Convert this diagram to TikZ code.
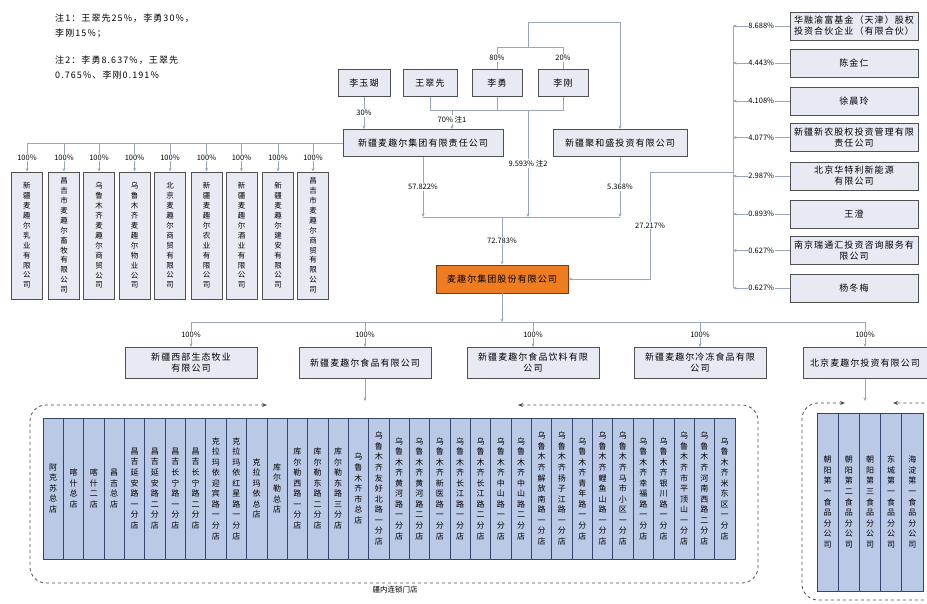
\documentclass[tikz,border=0pt]{standalone}
\usepackage{fontspec}
\setmainfont{Noto Sans CJK SC}
\newfontfamily\spacedfont{Noto Sans CJK SC}[LetterSpace=12]
\usetikzlibrary{arrows.meta}

\definecolor{boxfill}{HTML}{E8EAF3}
\definecolor{boxline}{HTML}{505050}
\definecolor{linkcol}{HTML}{98A6BE}
\definecolor{storefill}{HTML}{B9C9E6}
\definecolor{storeline}{HTML}{34456E}
\definecolor{hqfill}{HTML}{EE7D22}
\definecolor{hqline}{HTML}{7A3A10}

% stack the characters of a name one under the other
\let\vstackend\relax
\newcommand\vstack[1]{\vbox{\baselineskip=1.32em\expandafter\vstackA#1\vstackend}}
\def\vstackA#1{\ifx#1\vstackend\else\hbox to 1em{\hss#1\hss}\expandafter\vstackA\fi}

\begin{document}
\begin{tikzpicture}[x=1pt, y=-1pt, >={Stealth[length=3.5pt,width=3pt]},
    every node/.style={font=\fontsize{8.5}{10}\selectfont},
    box/.style={draw=boxline, fill=boxfill, line width=0.9pt, align=center, inner sep=1pt,
        font=\spacedfont\fontsize{9}{11}\selectfont},
    person/.style={box, minimum height=27pt},
    firm/.style={box, minimum height=27pt},
    hq/.style={box, draw=hqline, fill=hqfill},
    vertbox/.style={box, minimum width=31pt, minimum height=127pt, inner sep=0pt,
        font=\fontsize{7.5}{9}\selectfont},
    store/.style={draw=storeline, fill=storefill, line width=0.7pt, minimum width=20.35pt,
        minimum height=141pt, inner sep=0pt, font=\fontsize{8}{10}\selectfont},
    link/.style={draw=linkcol, line width=0.8pt},
    pct/.style={font=\fontsize{7.5}{8}\selectfont, fill=white, inner sep=0.8pt},
    note/.style={font=\spacedfont\fontsize{9}{15}\selectfont, align=left, inner sep=0pt},
    dashloop/.style={dashed, line width=0.8pt, draw=black!70, rounded corners=16pt,
        {Stealth[length=5pt,width=4pt]}-{Stealth[length=5pt,width=4pt]}}]
    \useasboundingbox (0,0) rectangle (927,603);
    \clip (0,0) rectangle (927,603);

    % notes
    \node[note, anchor=north west] (noteA) at (55,14) {注1：王翠先25\%，李勇30\%，\\李刚15\%；};
    \node[note, anchor=north west] (noteB) at (55,56) {注2：李勇8.637\%，王翠先\\0.765\%、李刚0.191\%};

    % natural persons
    \node[person, minimum width=52pt] (liyh)   at (364,83) {李玉瑚};
    \node[person, minimum width=54pt] (wangcx) at (430,83) {王翠先};
    \node[person, minimum width=50pt] (liy)    at (497,83) {李勇};
    \node[person, minimum width=50pt] (lig)    at (563,83) {李刚};

    \node[firm, minimum width=160pt] (groupco) at (423,143) {新疆麦趣尔集团有限责任公司};
    \node[firm, minimum width=134pt] (juhe)    at (620,143) {新疆聚和盛投资有限公司};
    \node[hq, minimum width=132pt, minimum height=28pt] (maiq) at (502,279) {麦趣尔集团股份有限公司};

    \coordinate (topM) at (528,47);
    \coordinate (topC) at (528,22);
    \coordinate (lowbar) at (0,110);
    \coordinate (famin) at (452,110);
    \coordinate (famout) at (528,110);
    \coordinate (mergebar) at (502,217);

    \draw[link] (liy.north) -- node[pct]{80\%} (liy.north |- topM) -- (lig.north |- topM)
        -- node[pct]{20\%} (lig.north);
    \draw[link, ->] (topM) -- (topC) -| (juhe.north);
    \draw[link] (wangcx.south) -- (wangcx.south |- lowbar) -- (lig.south |- lowbar) -- (lig.south);
    \draw[link] (liy.south) -- (liy.south |- lowbar);
    \draw[link, ->] (famin) -- node[pct]{70\% 注1} (famin |- groupco.north);
    \draw[link, ->] (liyh.south) -- node[pct]{30\%} (liyh.south |- groupco.north);

    % into the listed company
    \draw[link, ->] (groupco.south) -- node[pct]{57.822\%} (groupco.south |- mergebar);
    \draw[link, ->] (famout) -- node[pct]{9.593\% 注2} (famout |- mergebar);
    \draw[link, ->] (juhe.south) -- node[pct]{5.368\%} (juhe.south |- mergebar);
    \draw[link] (groupco.south |- mergebar) -- (juhe.south |- mergebar);
    \draw[link, ->] (mergebar) -- node[pct]{72.783\%} (maiq.north);

    % other shareholders
    \foreach \y/\name/\p [count=\i] in {
        26/{华融渝富基金（天津）股权\\投资合伙企业（有限合伙）}/8.688,
        63/陈金仁/4.443,
        101/徐晨玲/4.108,
        137.5/{新疆新农股权投资管理有限\\责任公司}/4.077,
        176/{北京华特利新能源\\有限公司}/2.987,
        214/王澄/0.893,
        250.5/{南京瑞通汇投资咨询服务有\\限公司}/0.627,
        288/杨冬梅/0.627} {
        \node[firm, minimum width=128pt, minimum height=28pt] (holder\i) at (854,\y) {\name};
        \coordinate (tap\i) at (733,\y);
        \draw[link, ->] (holder\i.west) -- node[pct]{\p\%} (tap\i);
    }
    \draw[link] (tap1) -- (tap8);
    \coordinate (tapmid) at (733,172);
    \coordinate (bend) at (650,172);
    \draw[link, ->] (tapmid) -- (bend) |- node[pct, pos=0.25]{27.217\%} (maiq.east);

    % subsidiaries of the group company
    \foreach \x/\name [count=\i] in {
        27/新疆麦趣尔乳业有限公司,
        64/昌吉市麦趣尔畜牧有限公司,
        99/乌鲁木齐麦趣尔商贸公司,
        134.5/乌鲁木齐麦趣尔物业公司,
        170/北京麦趣尔商贸有限公司,
        206.5/新疆麦趣尔农业有限公司,
        241.5/新疆麦趣尔酒业有限公司,
        278/新疆麦趣尔建安有限公司,
        313/昌吉市麦趣尔商贸有限公司} {
        \node[vertbox] (sub\i) at (\x,235.5) {\vstack{\name}};
        \draw[link, ->] (groupco.west -| sub\i.north) -- node[pct]{100\%} (sub\i.north);
    }
    \draw[link] (groupco.west) -- (groupco.west -| sub1.north);

    % subsidiaries of the listed company
    \node[firm, minimum width=132pt, minimum height=31pt] (ranch) at (191,363) {新疆西部生态牧业\\有限公司};
    \node[firm, minimum width=132pt, minimum height=31pt] (food)  at (365,363) {新疆麦趣尔食品有限公司};
    \node[firm, minimum width=132pt, minimum height=31pt] (drink) at (533,363) {新疆麦趣尔食品饮料有限\\公司};
    \node[firm, minimum width=132pt, minimum height=31pt] (frozen) at (700,363) {新疆麦趣尔冷冻食品有限\\公司};
    \node[firm, minimum width=124pt, minimum height=31pt] (bjinv) at (865,363) {北京麦趣尔投资有限公司};
    \coordinate (busS) at (502,322);
    \draw[link, ->] (maiq.south) -- (busS);
    \draw[link] (ranch.north |- busS) -- (bjinv.north |- busS);
    \foreach \sub in {ranch, food, drink, frozen, bjinv}
        \draw[link, ->] (\sub.north |- busS) -- node[pct]{100\%} (\sub.north);

    % stores in Xinjiang
    \coordinate (storein) at (365,401);
    \draw[link, ->] (food.south) -- (storein);
    \draw[dashloop] (267,405) -- (30,405) -- (30,583) -- (758,583) -- (758,405) -- (518,405);
    \foreach \s [count=\i from 0] in {阿克苏总店, 喀什总店, 喀什二店, 昌吉总店,
        昌吉延安路一分店, 昌吉延安路二分店, 昌吉长宁路一分店, 昌吉长宁路二分店,
        克拉玛依迎宾路一分店, 克拉玛依红星路一分店, 克拉玛依总店, 库尔勒总店,
        库尔勒西路一分店, 库尔勒东路二分店, 库尔勒东路三分店, 乌鲁木齐市总店,
        乌鲁木齐友好北路一分店, 乌鲁木齐黄河路一分店, 乌鲁木齐黄河路二分店,
        乌鲁木齐新医路一分店, 乌鲁木齐长江路一分店, 乌鲁木齐长江路二分店,
        乌鲁木齐中山路一分店, 乌鲁木齐中山路二分店, 乌鲁木齐解放南路一分店,
        乌鲁木齐扬子江路一分店, 乌鲁木齐青年路一分店, 乌鲁木齐鲤鱼山路一分店,
        乌鲁木齐马市小区一分店, 乌鲁木齐幸福路一分店, 乌鲁木齐银川路一分店,
        乌鲁木齐市平顶山一分店, 乌鲁木齐河南西路二分店, 乌鲁木齐米东区一分店}
        \node[store] (shop\i) at ({53.175+20.35*\i},488.5) {\vstack{\s}};
    \node[font=\fontsize{7.5}{9}\selectfont] (storelbl) at (395,590) {疆内连锁门店};

    % branches in Beijing
    \coordinate (branchin) at (865,401);
    \draw[link, ->] (bjinv.south) -- (branchin);
    \draw[dashloop] (845,403) -- (802,403) -- (802,600) -- (945,600) -- (945,403) -- (893,403);
    \foreach \s [count=\i from 0] in {朝阳第一食品分公司, 朝阳第二食品分公司, 朝阳第三食品分公司,
        东城第一食品分公司, 海淀第一食品分公司}
        \node[store, minimum width=21.2pt, minimum height=178pt] (branch\i) at ({827.6+21.2*\i},502) {\vstack{\s}};
\end{tikzpicture}
\end{document}
